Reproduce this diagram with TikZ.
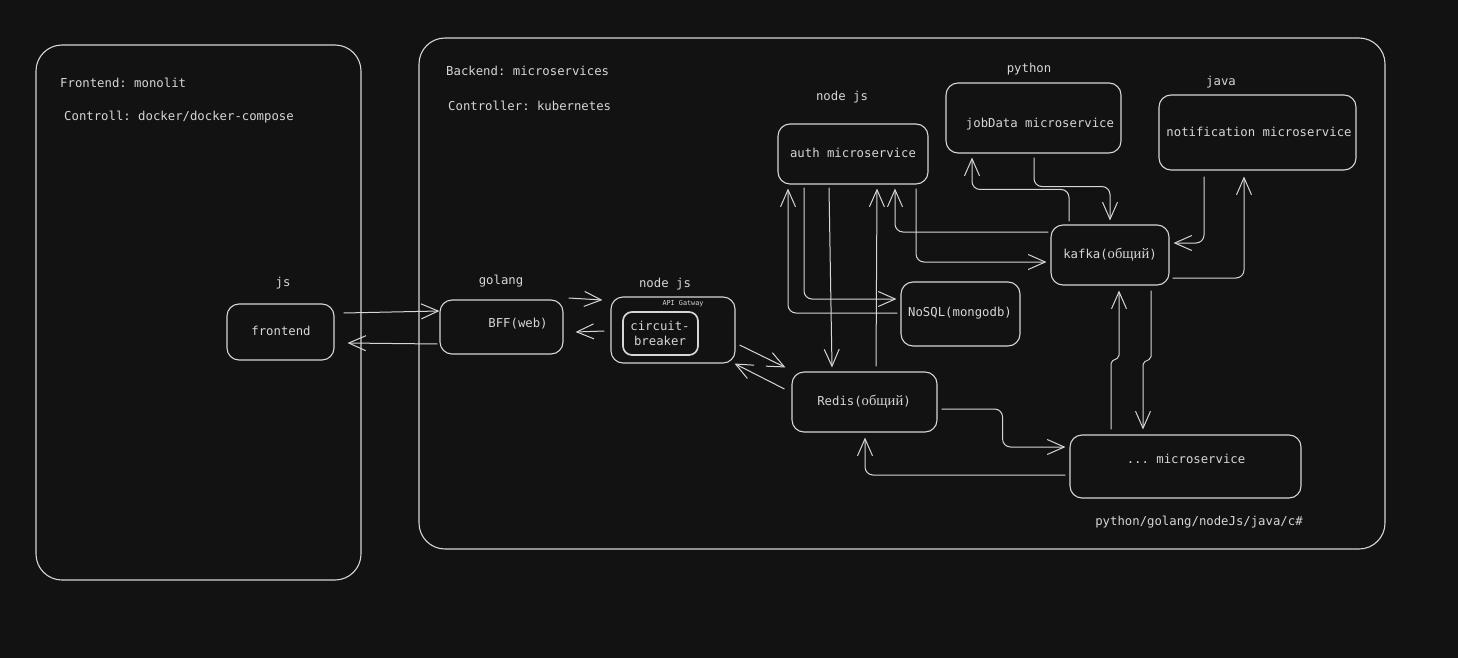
\documentclass[tikz,border=0pt]{standalone}
\usepackage{fontspec}
\setmonofont{DejaVu Sans Mono}
\newfontfamily\cyrserif{Liberation Serif}
\usetikzlibrary{arrows.meta,calc}
\definecolor{bg}{HTML}{121212}
\definecolor{ink}{HTML}{D6D6D6}
\newcommand{\obsh}{{\cyrserif\fontsize{14.6}{15}\selectfont общий}}
\tikzset{
 box/.style={draw=ink, line width=1.1pt, rounded corners=12pt, inner sep=0pt},
 bigbox/.style={box, rounded corners=26pt},
 lbl/.style={text=ink, font=\ttfamily\fontsize{12.3}{15}\selectfont, inner sep=0pt},
 tinylbl/.style={text=ink, font=\ttfamily\fontsize{6.8}{8}\selectfont, inner sep=0pt},
 arr/.style={draw=ink, line width=1pt, rounded corners=8pt, -{Straight Barb[length=17pt,width=15pt]}},
}
\begin{document}
\begin{tikzpicture}[x=1pt,y=-1pt]
\fill[bg] (0,0) rectangle (1458,658);
\useasboundingbox (0,0) rectangle (1458,658);
% containers
\node[bigbox, minimum width=325pt, minimum height=535pt] (front) at (198.5,312.5) {};
\node[bigbox, minimum width=966pt, minimum height=511pt] (back) at (902,293.5) {};
\node[lbl, anchor=west] (t1) at (60,83) {Frontend: monolit};
\node[lbl, anchor=west] (t2) at (64,117) {Controll: docker/docker-compose};
\node[lbl, anchor=west] (t3) at (446,71) {Backend: microservices};
\node[lbl, anchor=west] (t4) at (448,106) {Controller: kubernetes};
% boxes
\node[box, minimum width=107pt, minimum height=56pt] (frontend) at (280.5,332) {};
\node[box, minimum width=123pt, minimum height=54pt] (bff) at (501.5,327) {};
\node[box, minimum width=124pt, minimum height=66pt] (gw) at (673,330) {};
\node[box, line width=1.7pt, rounded corners=9pt, minimum width=75pt, minimum height=43pt] (cb) at (660.5,333.5) {};
\node[box, minimum width=150pt, minimum height=60pt] (auth) at (853,154) {};
\node[box, minimum width=175pt, minimum height=70pt] (job) at (1033.5,118) {};
\node[box, minimum width=197pt, minimum height=75pt] (notif) at (1257.5,132.5) {};
\node[box, minimum width=119pt, minimum height=64pt] (nosql) at (960.5,314) {};
\node[box, minimum width=118pt, minimum height=60pt] (kafka) at (1110,255) {};
\node[box, minimum width=145pt, minimum height=60pt] (redis) at (864.5,402) {};
\node[box, minimum width=231pt, minimum height=63pt] (ms) at (1185.5,466.5) {};
% box texts
\node[lbl] (frontendT) at (281,331) {frontend};
\node[lbl] (bffT) at (518,324) {BFF(web)};
\node[lbl, align=center] (cbT) at (660,333) {circuit-\\breaker};
\node[tinylbl] (gwT) at (683,304) {API Gatway};
\node[lbl] (authT) at (853,153) {auth microservice};
\node[lbl] (jobT) at (1040,124) {jobData microservice};
\node[lbl] (notifT) at (1259,132) {notification microservice};
\node[lbl] (nosqlT) at (960,313) {NoSQL(mongodb)};
\node[lbl] (kafkaT) at (1110,255) {kafka(\obsh)};
\node[lbl] (redisT) at (864,402) {Redis(\obsh)};
\node[lbl] (msT) at (1186,459) {... microservice};
% tech labels
\node[lbl] (jsL) at (283,283) {js};
\node[lbl] (golangL) at (501,281) {golang};
\node[lbl] (gwL) at (665,284) {node js};
\node[lbl] (authL) at (842,97) {node js};
\node[lbl] (pyL) at (1029,69) {python};
\node[lbl] (javaL) at (1221,82) {java};
\node[lbl] (langL) at (1199,522) {python/golang/nodeJs/java/c\#};
% connectors
\draw[arr] ($(frontend.east)+(9,-19)$) -- ($(bff.west)+(0,-16)$);
\draw[arr] ($(bff.west)+(-2,17)$) -- ($(frontend.east)+(13,11)$);
\draw[arr] ($(bff.east)+(5,-29)$) -- ($(gw.west)+(-8,-30)$);
\draw[arr] ($(gw.west)+(-6,1)$) -- ($(bff.east)+(12,5)$);
\draw[arr] ($(gw.east)+(4,15)$) -- ($(redis.north west)+(-6,-4)$);
\draw[arr] ($(redis.west)+(-7,-13)$) -- ($(gw.south east)+(-1,0)$);
\draw[arr] ($(auth.south)+(-24,3)$) -- ($(redis.north)+(-32.5,-4)$);
\draw[arr] ($(redis.north)+(11.5,-5)$) -- ($(auth.south)+(24,4)$);
\draw[arr] ($(nosql.west)+(-3,-1)$) -| ($(auth.south)+(-65,4)$);
\draw[arr] ($(auth.south)+(-49,3)$) |- ($(nosql.west)+(-4,-15)$);
\draw[arr] ($(kafka.west)+(-2,-23)$) -| ($(auth.south)+(42,4)$);
\draw[arr] ($(auth.south)+(63,4)$) |- ($(kafka.west)+(-4,7)$);
\draw[arr] ($(kafka.north)+(-41,-3)$) -- ++(0,-32) -| ($(job.south)+(-61.5,4)$);
\draw[arr] ($(job.south)+(0.5,4)$) -- ++(0,29) -| ($(kafka.north)+(0,-4)$);
\draw[arr] ($(notif.south)+(-53.5,6)$) |- ($(kafka.east)+(4,-12)$);
\draw[arr] ($(kafka.east)+(3,23)$) -| ($(notif.south)+(-13.5,6)$);
\draw[arr, rounded corners=2pt] ($(kafka.south)+(41,5)$) -- ++(0,68) -- ++(-8,4) -- ($(ms.north)+(-42.5,-5)$);
\draw[arr, rounded corners=2pt] ($(ms.north)+(-74.5,-5)$) -- ++(0,-68) -- ++(8,-4) -- ($(kafka.south)+(9,5)$);
\draw[arr] ($(redis.east)+(4,7)$) -- ++(61,0) |- ($(ms.west)+(-4,-19.5)$);
\draw[arr] ($(ms.west)+(-4,8.5)$) -| ($(redis.south)+(0.5,5)$);
\end{tikzpicture}
\end{document}
